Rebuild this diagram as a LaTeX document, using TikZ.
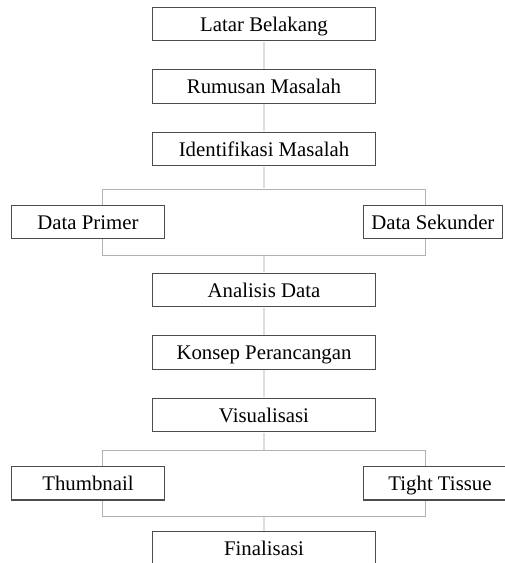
\documentclass[tikz,border=0pt]{standalone}
\usepackage{fontspec}
\setmainfont{Liberation Serif}
\usetikzlibrary{positioning}

\begin{document}
\begin{tikzpicture}[x=1pt, y=-1pt, node distance=62.5pt,
                    block/.style={rectangle, draw=black!70, line width=1.1pt, minimum width=223.4pt,
                                  minimum height=33.4pt, inner sep=0pt, text height=18.5pt, text depth=4.4pt,
                                  font=\fontsize{20.8}{24}\selectfont},
                    sideblock/.style={block, minimum width=152.6pt},
                    link/.style={draw=black!13, line width=1.3pt, shorten <=0.6pt, shorten >=0.6pt},
                    branch/.style={draw=black!30, line width=1pt}]
  \useasboundingbox (0,0) rectangle (505,563);
  % main chain
  \node[block] (latar) at (264,24) {Latar Belakang};
  \node[block, below of=latar] (rumusan) {Rumusan Masalah};
  \node[block, below of=rumusan] (identifikasi) {Identifikasi Masalah};
  \node[sideblock] (primer) at (88,222) {Data Primer};
  \node[sideblock, minimum width=138.3pt] (sekunder) at (432.9,222) {Data Sekunder};
  \node[block] (analisis) at (264,290) {Analisis Data};
  \node[block, below of=analisis] (konsep) {Konsep Perancangan};
  \node[block, below of=konsep] (visual) {Visualisasi};
  \node[sideblock] (thumb) at (88,483.3) {Thumbnail};
  \node[sideblock] (tissue) at (440,483.3) {Tight Tissue};
  \node[block] (final) at (264,548.4) {Finalisasi};
  % branch points
  \coordinate (split1) at (264,189);
  \coordinate (s1l) at (102.7,189);
  \coordinate (s1r) at (425.3,189);
  \coordinate (join1) at (264,255);
  \coordinate (j1l) at (102.7,255);
  \coordinate (j1r) at (425.3,255);
  \coordinate (split2) at (264,450.3);
  \coordinate (s2l) at (102.7,450.3);
  \coordinate (s2r) at (425.3,450.3);
  \coordinate (join2) at (264,516);
  \coordinate (j2l) at (102.7,516);
  \coordinate (j2r) at (425.3,516);
  % connectors
  \draw[link] (latar) -- (rumusan);
  \draw[link] (rumusan) -- (identifikasi);
  \draw[link] (identifikasi) -- (split1);
  \draw[branch] (primer.north -| s1l) -- (s1l) -- (s1r) -- (sekunder.north -| s1r);
  \draw[branch] (primer.south -| j1l) -- (j1l) -- (j1r) -- (sekunder.south -| j1r);
  \draw[link] (join1) -- (analisis);
  \draw[link] (analisis) -- (konsep);
  \draw[link] (konsep) -- (visual);
  \draw[link] (visual) -- (split2);
  \draw[branch] (thumb.north -| s2l) -- (s2l) -- (s2r) -- (tissue.north -| s2r);
  \draw[branch] (thumb.south -| j2l) -- (j2l) -- (j2r) -- (tissue.south -| j2r);
  \draw[link] (join2) -- (final);
\end{tikzpicture}
\end{document}
